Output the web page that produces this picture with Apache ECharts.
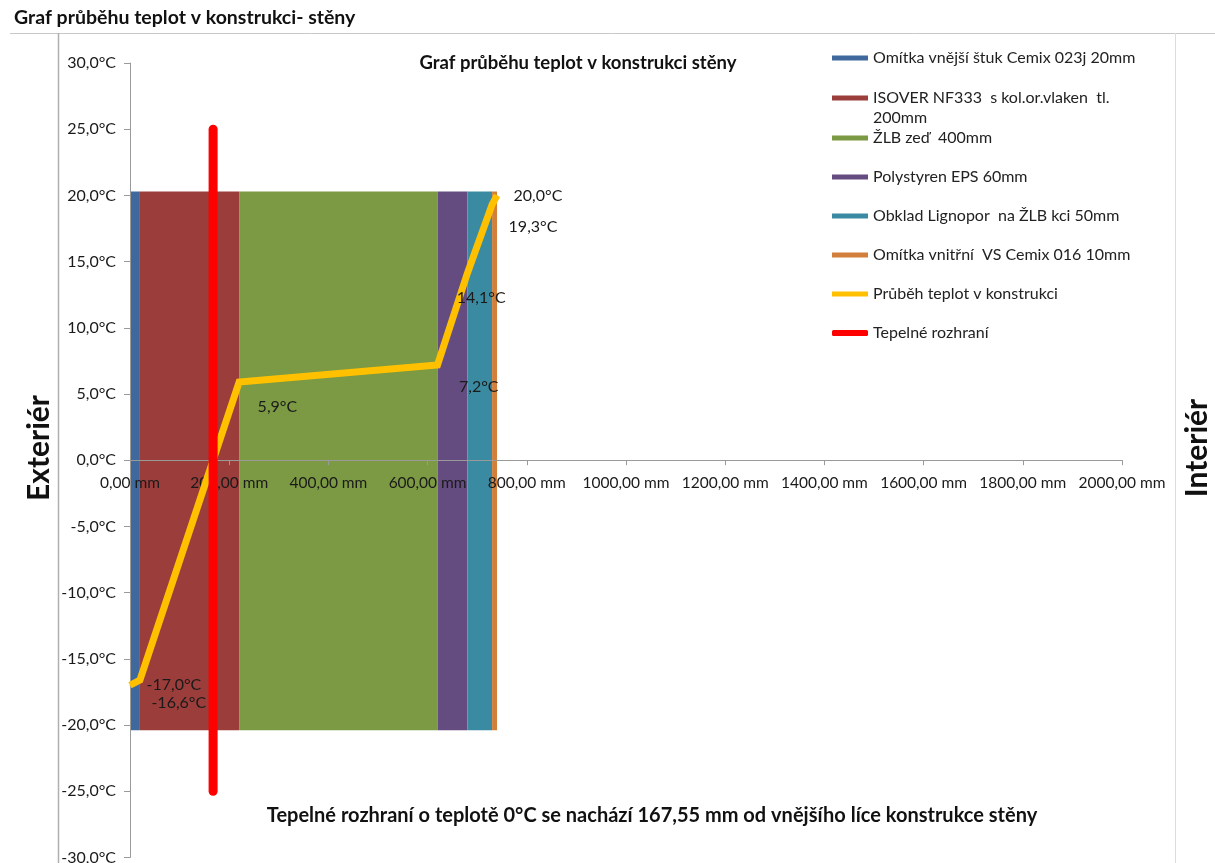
<!DOCTYPE html>
<html>
<head>
<meta charset="utf-8">
<script src="https://cdn.jsdelivr.net/npm/echarts@6/dist/echarts.min.js"></script>
<style>
html,body{margin:0;padding:0;background:#fff;}
#c{width:1215px;height:863px;}
</style>
</head>
<body>
<div id="c"></div>
<script>
// ---- data ----
const layerNames = [
  'Omítka vnější štuk Cemix 023j 20mm',
  'ISOVER NF333  s kol.or.vlaken  tl. 200mm',
  'ŽLB zeď  400mm',
  'Polystyren EPS 60mm',
  'Obklad Lignopor  na ŽLB kci 50mm',
  'Omítka vnitřní  VS Cemix 016 10mm'
];
const layerStart = [0, 20, 220, 620, 680, 730];
const layerEnd   = [20, 220, 620, 680, 730, 740];
const layerTop = 20.3;
const layerBottom = -20.4;
const layerColors = ['#3F689C', '#9B3D3A', '#7C9A43', '#654C80', '#3A8BA1', '#D17F3A'];

const tempName = 'Průběh teplot v konstrukci';
const tempX = [0, 20, 220, 620, 680, 730, 740];
const tempY = [-17.0, -16.6, 5.9, 7.2, 14.1, 19.3, 20.0];

const boundaryName = 'Tepelné rozhraní';
const boundaryX = [167.55, 167.55];
const boundaryY = [25, -25];

const yTicks = {min: -30, max: 30, step: 5};
const xTicks = {min: 0, max: 2000, step: 200};

// ---- layout ----
const FONT = 'Lato, "Open Sans", sans-serif';
const GRID = {left: 130, right: 93, top: 63, bottom: 5.6};
const plotH = 863 - GRID.top - GRID.bottom;
const zeroOffset = -plotH * (0 - yTicks.min) / (yTicks.max - yTicks.min);
// label shifts (px) relative to the point, label anchored at its left-middle
const labelOffsets = [[16, 0], [11, 23], [18, 25], [21, 22], [-11, 24], [16, 22], [16, 0]];
const legendCenters = [58, 98, 138, 177, 216, 255, 294, 333];

const fmtNum = (v, d) => v.toFixed(d).replace('.', ',');

const series = [];
layerNames.forEach((n, i) => {
  series.push({
    name: n,
    type: 'custom',
    z: 1,
    itemStyle: {color: layerColors[i]},
    encode: {x: [0, 1], y: [2, 3]},
    data: [[layerStart[i], layerEnd[i], layerTop, layerBottom]],
    renderItem: (params, api) => {
      const p0 = api.coord([api.value(0), api.value(2)]);
      const p1 = api.coord([api.value(1), api.value(3)]);
      return {
        type: 'rect',
        shape: {x: p0[0], y: p0[1], width: p1[0] - p0[0], height: p1[1] - p0[1]},
        style: {fill: layerColors[i]}
      };
    }
  });
});

series.push({
  name: tempName,
  type: 'line',
  z: 5,
  symbol: 'circle',
  symbolSize: 1,
  showSymbol: true,
  color: '#FFC000',
  itemStyle: {color: '#FFC000'},
  lineStyle: {color: '#FFC000', width: 7, join: 'miter'},
  label: {
    show: true,
    position: 'right',
    distance: 0,
    formatter: p => fmtNum(p.value[1], 1) + '°C',
    color: '#1a1a1a',
    fontFamily: FONT,
    fontSize: 16
  },
  labelLayout: params => {
    const o = labelOffsets[params.dataIndex];
    const r = params.labelRect;
    return {x: r.x + o[0], y: r.y + o[1], hideOverlap: false, moveOverlap: null};
  },
  data: tempX.map((x, i) => [x, tempY[i]])
});

series.push({
  name: boundaryName,
  type: 'line',
  z: 6,
  symbol: 'none',
  color: '#FF0000',
  lineStyle: {color: '#FF0000', width: 9, cap: 'round'},
  data: boundaryX.map((x, i) => [x, boundaryY[i]])
});

const legendNames = layerNames.concat([tempName, boundaryName]);
const legendColors = layerColors.concat(['#FFC000', '#FF0000']);
const legends = legendNames.map((n, i) => {
  const isIso = i === 1;
  return {
    data: [{name: n, itemStyle: {color: legendColors[i]}, lineStyle: {opacity: 0}}],
    left: 832,
    top: legendCenters[i] - (isIso ? 30 : 10),
    padding: 0,
    itemWidth: 36,
    itemHeight: i === 7 ? 6 : 5,
    itemGap: 0,
    icon: i === 7 ? 'roundRect' : 'rect',
    selectedMode: false,
    formatter: isIso ? () => '\u00a0\nISOVER NF333  s kol.or.vlaken  tl.\n200mm' : undefined,
    textStyle: {fontFamily: FONT, fontSize: 16, color: '#222', lineHeight: 20}
  };
});

const chart = echarts.init(document.getElementById('c'), null, {renderer: 'canvas'});
chart.setOption({
  backgroundColor: '#fff',
  animation: false,
  grid: Object.assign({containLabel: false, outerBoundsMode: 'none'}, GRID),
  legend: legends,
  xAxis: {
    type: 'value',
    position: 'bottom',
    offset: zeroOffset,
    min: xTicks.min, max: xTicks.max, interval: xTicks.step,
    z: 3,
    axisLine: {show: true, onZero: false, lineStyle: {color: '#9a9a9a', width: 1}},
    axisTick: {show: true, length: 5, lineStyle: {color: '#9a9a9a'}},
    splitLine: {show: false},
    axisLabel: {
      formatter: v => fmtNum(v, 2) + ' mm',
      color: '#1a1a1a', fontFamily: FONT, fontSize: 15.5, margin: 15
    }
  },
  yAxis: {
    type: 'value',
    min: yTicks.min, max: yTicks.max, interval: yTicks.step,
    z: 3,
    axisLine: {show: true, onZero: false, lineStyle: {color: '#9a9a9a', width: 1}},
    axisTick: {show: true, length: 6, lineStyle: {color: '#9a9a9a'}},
    splitLine: {show: false},
    axisLabel: {
      formatter: v => fmtNum(v, 1) + '°C',
      color: '#1a1a1a', fontFamily: FONT, fontSize: 16, margin: 14
    }
  },
  series: series,
  graphic: [
    {type: 'text', left: 14, top: 8, style: {text: 'Graf průběhu teplot v konstrukci- stěny', font: 'bold 19.5px ' + FONT, fill: '#111'}},
    {type: 'line', shape: {x1: 10, y1: 33.5, x2: 1215, y2: 33.5}, style: {stroke: '#c8c8c8', lineWidth: 1}},
    {type: 'line', shape: {x1: 58.5, y1: 33, x2: 58.5, y2: 863}, style: {stroke: '#b0b0b0', lineWidth: 1.5}},
    {type: 'line', shape: {x1: 1175.5, y1: 33, x2: 1175.5, y2: 863}, style: {stroke: '#dcdcdc', lineWidth: 1}},
    {type: 'text', x: 578, y: 63, style: {text: 'Graf průběhu teplot v konstrukci stěny', font: 'bold 18.5px ' + FONT, fill: '#111', align: 'center', verticalAlign: 'middle'}},
    {type: 'text', x: 652, y: 816, style: {text: 'Tepelné rozhraní o teplotě 0°C se nachází 167,55 mm od vnějšího líce konstrukce stěny', font: 'bold 20px ' + FONT, fill: '#111', align: 'center', verticalAlign: 'middle'}},
    {type: 'text', x: 39, y: 448, rotation: Math.PI / 2, style: {text: 'Exteriér', font: 'bold 30px ' + FONT, fill: '#111', align: 'center', verticalAlign: 'middle'}},
    {type: 'text', x: 1197, y: 448, rotation: Math.PI / 2, style: {text: 'Interiér', font: 'bold 30px ' + FONT, fill: '#111', align: 'center', verticalAlign: 'middle'}}
  ]
});
</script>
</body>
</html>
